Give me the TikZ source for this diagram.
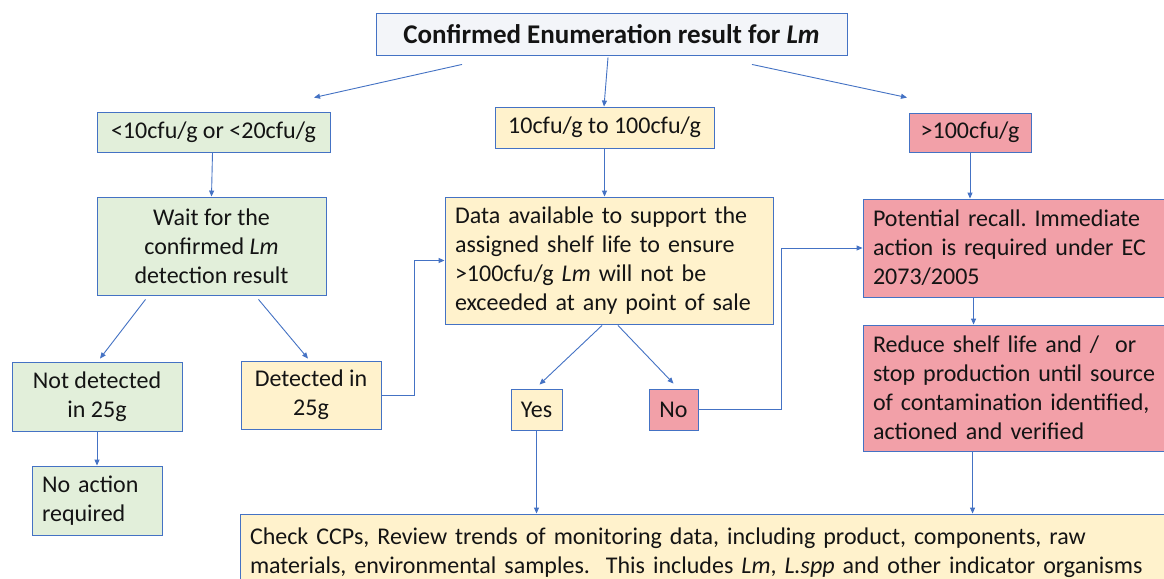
\documentclass[tikz,border=0pt]{standalone}
\usepackage{fontspec}
\setmainfont{Carlito}
\usetikzlibrary{arrows.meta,calc}
\definecolor{bl}{RGB}{68,114,196}
\definecolor{gf}{RGB}{226,239,218}
\definecolor{yf}{RGB}{255,242,204}
\definecolor{rf}{RGB}{242,160,168}
\definecolor{tf}{RGB}{243,245,249}
\definecolor{tx}{RGB}{20,20,20}
\frenchspacing
\begin{document}
\begin{tikzpicture}[x=1pt,y=-1pt,
  box/.style={draw=bl, line width=0.9pt, inner xsep=10pt, inner ysep=0pt, text=tx,
    font=\fontsize{24}{29}\selectfont},
  lbox/.style={box, align=left},
  cbox/.style={box, align=center},
  arr/.style={draw=bl, line width=0.9pt, -{Triangle[length=6pt,width=5pt]}}]
\useasboundingbox (0,0) rectangle (1164,578);
\clip (0,0) rectangle (1164,578);
\fill[white] (0,0) rectangle (1164,578);

\node[cbox, fill=tf, minimum width=471pt, minimum height=42pt, font=\fontsize{27}{30}\selectfont\bfseries] (title) at (611.5,34) {Confirmed Enumeration result for \textit{Lm}};

\node[cbox, fill=gf, minimum width=233pt, minimum height=40pt] (g1) at (213.5,132) {<10cfu/g or <20cfu/g};
\node[cbox, fill=yf, minimum width=219pt, minimum height=41pt] (m1) at (604.5,127.5) {10cfu/g to 100cfu/g};
\node[cbox, fill=rf, minimum width=122pt, minimum height=39pt] (r1) at (970,132.5) {>100cfu/g};

\node[cbox, fill=gf, minimum width=229pt, minimum height=98pt] (wait) at (211.5,246) {Wait for the\\confirmed \textit{Lm}\\detection result};
\node[lbox, fill=yf, minimum width=328pt, minimum height=127pt, text width=308pt] (data) at (609,260.5) {Data available to support the\\assigned shelf life to ensure\\>100cfu/g \textit{Lm} will not be\\exceeded at any point of sale};
\node[lbox, fill=rf, minimum width=307pt, minimum height=98pt, text width=287pt] (recall) at (1016.5,248) {Potential recall. Immediate\\action is required under EC\\2073/2005};
\node[lbox, fill=rf, minimum width=307pt, minimum height=126pt, text width=287pt] (reduce) at (1016.5,388) {Reduce shelf life and /\ \ or\\stop production until source\\of contamination identified,\\actioned and verified};

\node[cbox, fill=gf, minimum width=170pt, minimum height=69pt] (notdet) at (97,396.5) {Not detected\\in 25g};
\node[cbox, fill=yf, minimum width=140pt, minimum height=68pt] (det) at (311,395) {Detected in\\25g};
\node[lbox, fill=gf, minimum width=130pt, minimum height=69pt, text width=110pt] (noaction) at (97,500.5) {No action\\required};
\node[cbox, fill=yf, minimum width=51pt, minimum height=41pt, inner xsep=2pt] (yes) at (536.5,409.5) {Yes};
\node[cbox, fill=rf, minimum width=49pt, minimum height=41pt, inner xsep=2pt] (no) at (673.5,409.5) {No};

\node[lbox, fill=yf, minimum width=930pt, minimum height=80pt, text width=910pt] (bottom) at (705,554) {Check CCPs, Review trends of monitoring data, including product, components, raw\\materials, environmental samples.\ \ This includes \textit{Lm}, \textcolor{red!75!black}{\underline{\textcolor{tx}{\textit{L.spp}}}} and other indicator organisms};

\draw[arr] ($(title.south)+(-149.5,9)$) -- ($(g1.north)+(100.5,-14)$);
\draw[arr] ($(title.south)+(-3.5,2)$) -- ($(m1.north)+(-0.5,0)$);
\draw[arr] ($(title.south)+(140.5,9)$) -- ($(r1.north)+(-63,-15)$);
\draw[arr] ($(g1.south)+(-1,0)$) -- ($(wait.north)+(0,0)$);
\draw[arr] (m1.south) -- (m1.south |- data.north);
\draw[arr] (r1.south) -- (r1.south |- recall.north);
\draw[arr] ($(wait.south)+(-66,4)$) -- ($(notdet.north)+(3,-3)$);
\draw[arr] ($(wait.south)+(47,4)$) -- ($(det.north)+(-3,-2)$);
\draw[arr] (notdet.south) -- (notdet.south |- noaction.north);
\draw[arr] (det.east) -- ++(33,0) |- (data.west);
\draw[arr] ($(data.south)+(-7,1)$) -- ($(yes.north)+(3,-4)$);
\draw[arr] ($(data.south)+(9,1)$) -- ($(no.north)+(0,-5)$);
\draw[arr] (no.east) -- ++(83,0) |- (recall.west);
\draw[arr] (yes.south) -- (yes.south |- bottom.north);
\draw[arr] ($(recall.south west)+(111,0)$) -- ($(reduce.north west)+(111,0)$);
\draw[arr] ($(reduce.south west)+(110,0)$) -- ($(bottom.north west)+(733,0)$);
\end{tikzpicture}
\end{document}
